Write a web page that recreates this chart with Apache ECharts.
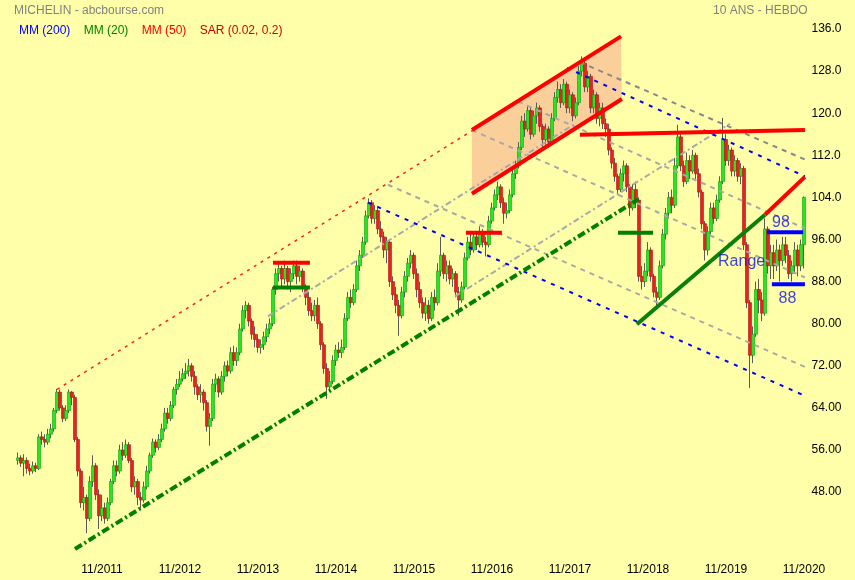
<!DOCTYPE html>
<html>
<head>
<meta charset="utf-8">
<script src="https://cdn.jsdelivr.net/npm/echarts@6/dist/echarts.min.js"></script>
<style>
html,body{margin:0;padding:0;background:#FFFFAA;}
#c{width:855px;height:580px;}
</style>
</head>
<body>
<div id="c"></div>
<script>
// ---- Data (bi-weekly candles, MICHELIN, Oct 2010 -> Nov 2020) ----
const startDate = [2010, 10, 17];
const stepDays = 14;

const opens = [
54.0,54.5,53.5,54.0,52.5,52.0,53.0,52.5,58.5,58.0,57.5,59.0,60.0,63.5,67.0,64.0,62.0,63.5,67.0,66.0,
58.0,52.0,46.0,47.0,43.0,50.0,53.0,47.5,43.5,45.0,43.0,46.0,50.0,53.0,52.0,56.0,55.0,57.0,54.0,49.0,
50.0,47.0,46.5,49.0,52.0,55.0,57.5,56.5,58.0,60.0,63.0,62.0,64.5,67.5,68.5,69.5,70.5,71.0,72.0,70.0,
68.0,66.5,67.0,65.0,60.5,62.0,68.5,69.5,67.0,70.0,72.0,71.0,74.5,73.0,74.5,79.0,82.5,83.5,80.5,78.0,
77.0,75.5,76.0,77.5,79.0,80.0,86.5,89.5,90.5,88.5,90.5,88.0,89.5,91.0,89.0,90.0,87.0,85.0,82.5,81.5,
83.5,80.0,76.0,71.5,68.0,69.0,73.0,75.0,74.5,75.5,81.0,85.0,84.0,86.5,91.0,93.0,95.5,100.5,103.0,100.0,
101.5,98.0,96.5,94.0,95.5,88.0,85.5,83.5,81.5,86.0,89.0,91.5,93.0,89.5,86.5,84.0,82.0,83.5,81.0,85.0,
84.0,90.0,93.0,89.5,91.0,88.5,89.5,86.0,84.5,87.0,92.5,95.5,94.0,96.5,95.0,97.0,95.5,95.0,99.5,102.0,
104.5,106.0,103.0,101.0,101.5,104.5,108.5,110.0,113.5,118.5,117.0,120.5,116.0,119.5,121.0,117.5,115.0,117.0,114.5,119.0,
123.0,124.5,122.0,125.5,121.0,123.5,119.5,122.0,128.0,129.5,125.0,127.0,121.0,123.5,119.0,121.0,118.0,117.0,113.0,110.5,
108.0,105.5,108.5,110.0,106.0,102.0,105.5,103.5,89.0,88.0,90.0,94.0,89.0,86.0,85.0,91.0,97.0,101.0,104.0,102.5,
110.0,115.5,110.0,107.0,111.0,109.0,112.0,108.5,105.0,99.0,94.0,97.5,102.0,100.0,103.5,107.0,115.0,111.0,113.0,109.0,
111.0,108.0,109.5,95.0,84.0,74.0,78.0,86.5,84.5,82.0,98.0,91.0,93.5,91.0,94.0,92.0,95.0,93.0,89.5,91.0,
94.0,91.0,95.0
];
const closes = [
54.5,53.5,54.0,52.5,52.0,53.0,52.5,58.5,58.0,57.5,59.0,60.0,63.5,67.0,64.0,62.0,63.5,67.0,66.0,58.0,
52.0,46.0,47.0,43.0,50.0,53.0,47.5,43.5,45.0,43.0,46.0,50.0,53.0,52.0,56.0,55.0,57.0,54.0,49.0,50.0,
47.0,46.5,49.0,52.0,55.0,57.5,56.5,58.0,60.0,63.0,62.0,64.5,67.5,68.5,69.5,70.5,71.0,72.0,70.0,68.0,
66.5,67.0,65.0,60.5,62.0,68.5,69.5,67.0,70.0,72.0,71.0,74.5,73.0,74.5,79.0,82.5,83.5,80.5,78.0,77.0,
75.5,76.0,77.5,79.0,80.0,86.5,89.5,90.5,88.5,90.5,88.0,89.5,91.0,89.0,90.0,87.0,85.0,82.5,81.5,83.5,
80.0,76.0,71.5,68.0,69.0,73.0,75.0,74.5,75.5,81.0,85.0,84.0,86.5,91.0,93.0,95.5,100.5,103.0,100.0,101.5,
98.0,96.5,94.0,95.5,88.0,85.5,83.5,81.5,86.0,89.0,91.5,93.0,89.5,86.5,84.0,82.0,83.5,81.0,85.0,84.0,
90.0,93.0,89.5,91.0,88.5,89.5,86.0,84.5,87.0,92.5,95.5,94.0,96.5,95.0,97.0,95.5,95.0,99.5,102.0,104.5,
106.0,103.0,101.0,101.5,104.5,108.5,110.0,113.5,118.5,117.0,120.5,116.0,119.5,121.0,117.5,115.0,117.0,114.5,119.0,123.0,
124.5,122.0,125.5,121.0,123.5,119.5,122.0,128.0,129.5,125.0,127.0,121.0,123.5,119.0,121.0,118.0,117.0,113.0,110.5,108.0,
105.5,108.5,110.0,106.0,102.0,105.5,103.5,89.0,88.0,90.0,94.0,89.0,86.0,85.0,91.0,97.0,101.0,104.0,102.5,110.0,
115.5,110.0,107.0,111.0,109.0,112.0,108.5,105.0,99.0,94.0,97.5,102.0,100.0,103.5,107.0,115.0,111.0,113.0,109.0,111.0,
108.0,109.5,95.0,84.0,74.0,78.0,86.5,84.5,82.0,98.0,91.0,93.5,91.0,94.0,92.0,95.0,93.0,89.5,91.0,94.0,
91.0,95.0,104.0
];
const lows = [
53.2,52.8,51.0,51.5,51.2,51.5,51.8,52.2,57.0,56.5,57.0,58.2,59.5,63.0,63.5,61.3,61.5,63.0,64.5,57.5,
51.0,45.0,44.5,40.2,42.5,49.0,46.5,41.0,42.5,42.0,42.5,45.5,49.5,51.0,51.5,54.0,54.5,53.5,48.0,47.5,
45.5,44.9,46.0,48.5,51.5,54.5,55.5,56.0,57.5,59.5,61.0,61.5,64.0,66.5,68.0,69.0,69.5,70.0,69.0,66.5,
65.5,65.0,63.5,59.5,56.8,61.5,67.0,66.0,66.5,69.0,70.0,70.5,72.0,72.0,74.0,78.5,81.0,79.5,77.0,75.5,
74.5,74.3,75.0,76.5,78.0,79.5,85.5,88.0,87.0,87.5,86.5,86.0,88.5,87.5,88.0,86.0,83.5,81.5,80.5,80.5,
79.0,75.0,70.5,65.7,67.0,68.5,72.0,73.5,73.5,75.0,80.5,83.0,83.5,86.0,90.0,92.5,95.0,100.0,99.0,99.0,
97.0,95.5,92.5,91.5,87.0,84.5,82.0,77.7,81.0,85.0,88.0,90.5,88.5,85.0,83.0,81.0,80.5,80.0,80.5,82.5,
83.5,89.0,88.5,88.0,87.5,87.0,85.0,81.5,84.0,86.5,92.0,93.0,93.5,94.0,94.5,94.5,92.8,94.5,99.0,101.5,
103.5,102.0,99.0,100.0,101.0,104.0,107.5,109.5,113.0,115.5,116.5,115.0,115.5,118.0,116.5,113.5,114.0,113.5,114.0,118.5,
122.0,121.0,121.5,120.0,120.0,118.5,119.0,121.5,127.0,124.0,124.0,120.0,120.0,118.0,117.5,117.0,115.5,112.0,109.5,107.0,
104.5,105.0,107.0,105.0,100.5,101.5,102.0,88.0,86.5,87.0,89.0,88.0,85.0,83.4,84.5,90.5,96.0,100.0,101.0,102.0,
109.5,109.0,106.0,106.5,107.5,108.5,107.5,104.0,98.0,92.0,93.0,97.0,99.0,99.5,103.0,106.5,110.0,110.0,108.0,108.0,
107.0,106.5,94.0,83.0,67.8,72.5,77.5,82.0,80.5,81.5,89.5,88.5,88.5,90.0,88.0,91.0,91.5,88.5,88.0,89.5,
89.0,90.0,90.5
];
const highs = [
55.5,55.0,55.2,54.6,53.4,53.8,53.6,59.0,59.5,59.0,60.0,61.0,64.0,67.6,67.5,64.5,64.5,67.5,67.2,66.5,
58.5,52.5,49.0,47.5,51.0,55.0,53.5,48.5,47.5,46.0,47.0,50.5,54.0,54.0,57.0,57.5,58.0,57.5,54.5,51.0,
50.5,48.0,50.0,53.0,55.5,58.2,58.0,59.0,61.0,64.0,64.0,65.3,68.0,69.5,71.0,71.5,72.5,73.3,72.5,71.0,
68.5,68.5,67.5,65.5,63.0,69.5,70.5,70.0,71.0,72.8,73.0,75.5,75.8,75.5,80.0,83.5,84.3,84.0,81.0,79.5,
78.0,77.0,78.5,80.0,81.0,87.0,90.5,91.5,91.0,92.0,91.0,90.5,92.0,92.0,91.0,90.5,87.5,86.0,84.0,84.5,
85.0,80.5,76.5,72.5,71.0,74.0,76.0,76.5,77.0,82.0,86.0,86.5,87.5,92.0,94.0,96.5,101.5,103.8,103.5,102.5,
102.0,99.5,97.5,96.5,96.0,89.0,87.0,84.5,87.0,90.0,92.5,94.0,93.5,90.5,88.0,85.0,85.0,84.5,86.0,86.5,
91.5,96.5,93.5,92.0,92.0,90.5,90.0,87.0,88.0,93.5,96.5,97.0,97.5,97.5,98.5,98.0,96.5,100.5,103.0,105.5,
107.0,106.5,104.0,103.0,105.5,109.5,111.0,114.5,119.5,120.0,121.5,121.0,120.5,122.0,121.5,118.0,118.0,117.5,120.0,124.0,
126.0,125.5,126.5,126.0,124.5,124.0,123.0,129.0,130.8,130.0,128.0,127.5,124.5,124.0,122.0,122.0,119.0,118.0,113.5,111.5,
108.5,109.5,111.0,110.5,106.5,106.5,107.0,104.0,91.0,91.5,95.5,94.5,89.5,87.0,92.0,98.0,102.0,105.0,105.5,111.5,
117.8,116.0,111.0,112.5,112.0,113.0,112.5,109.5,105.5,99.5,98.5,103.0,103.0,104.5,108.0,119.1,116.0,114.0,113.5,112.0,
111.5,110.5,110.0,95.5,84.5,79.5,88.0,88.5,86.0,100.0,98.5,95.0,95.0,96.0,95.0,96.5,96.5,94.0,92.0,95.5,
95.0,96.0,104.2
];

// price tags on the right axis: [value, colour]
const priceTags = [[130.8, '#007000'], [104.0, '#3C78F0'], [40.2, '#B00000']];

// trend lines: [ [candleIndex, price], [candleIndex, price] ]
const redDashed      = [[13, 67.5], [151.7, 116.8]];
const channelTop     = [[151.3, 116.8], [201, 134.6]];
const channelBottom  = [[151.3, 104.7], [201.3, 122.7]];
const blueDashLow    = [[116.7, 103.0], [262.3, 66.3]];
const blueDashHigh   = [[183, 128.6], [262.3, 108.0]];
const grayDash1      = [[123.3, 106.4], [262.3, 71.8]];
const grayDash2      = [[151.3, 116.8], [262.3, 88.8]];
const grayDash3      = [[187.3, 129.7], [262.3, 111.2]];
const grayDash4      = [[166.7, 122.2], [262.3, 98.1]];
const grayDashDot1   = [[83.3, 81.4], [185.7, 118.0]];
const grayDashDot2   = [[145.7, 85.2], [237.3, 118.0]];
const greenDashDot   = [[19, 37.2], [206.7, 103.6]];
const greenSupport   = [[206.3, 79.9], [249, 100.7]];
const redResistance  = [[249, 100.7], [262.3, 107.9]];
const redFlat        = [[187.3, 115.9], [262.3, 116.8]];
const redMark2013    = [[85, 91.6], [97.3, 91.6]];
const greenMark2013  = [[85, 86.9], [97.3, 86.9]];
const redMark2016    = [[149.3, 97.3], [161.3, 97.3]];
const greenMark2018  = [[200, 97.3], [211.7, 97.3]];
const rangeHigh      = [[249.7, 97.4], [261.7, 97.4]];
const rangeLow       = [[251.3, 87.5], [262.3, 87.5]];
// text annotations: [text, candleIndex, price]
const notes = [['98', 254.3, 99.2], ['88', 256.5, 84.8], ['Range', 241.2, 91.8]];

// ---- build ----
const dates = [];
const t0 = Date.UTC(startDate[0], startDate[1] - 1, startDate[2]);
for (let i = 0; i < closes.length; i++) {
  const d = new Date(t0 + i * stepDays * 86400000);
  dates.push(d.getUTCFullYear() + '-' + String(d.getUTCMonth() + 1).padStart(2, '0') + '-' + String(d.getUTCDate()).padStart(2, '0'));
}
const wickData = closes.map((c, i) => [opens[i], c, lows[i], highs[i]]);
const bodyData = closes.map((c, i) => [opens[i], c, Math.min(opens[i], c), Math.max(opens[i], c)]);

const FONT = 'Liberation Sans, Arial, sans-serif';

function seg(name, pts, color, width, type, z) {
  return {
    name: name, type: 'line', xAxisIndex: 1, yAxisIndex: 0, data: pts,
    symbol: 'none', clip: false, silent: true, animation: false, z: z || 5,
    lineStyle: { color: color, width: width, type: type, cap: 'butt' }
  };
}

const chart = echarts.init(document.getElementById('c'), null, { renderer: 'canvas' });
const option = {
  backgroundColor: '#FFFFAA',
  animation: false,
  title: [
    { text: 'MICHELIN - abcbourse.com', left: 9, top: 0,
      textStyle: { fontFamily: FONT, fontSize: 12, fontWeight: 'normal', color: '#808080' } },
    { text: '10 ANS - HEBDO', left: 708, top: 0,
      textStyle: { fontFamily: FONT, fontSize: 12, fontWeight: 'normal', color: '#808080' } },
    { text: '{b|MM (200)}    {g|MM (20)}    {r|MM (50)}    {s|SAR (0.02, 0.2)}', left: 14, top: 20,
      textStyle: { fontFamily: FONT, fontSize: 12, fontWeight: 'normal',
        rich: {
          b: { color: '#0000FF', fontFamily: FONT, fontSize: 12 },
          g: { color: '#008000', fontFamily: FONT, fontSize: 12 },
          r: { color: '#FF0000', fontFamily: FONT, fontSize: 12 },
          s: { color: '#CC0000', fontFamily: FONT, fontSize: 12 }
        } } }
  ],
  grid: { left: 16.5, right: 49.5, top: 29, bottom: 45.8, containLabel: false },
  xAxis: [
    { type: 'category', data: dates, boundaryGap: true,
      axisLine: { show: false }, axisTick: { show: false }, splitLine: { show: false },
      axisLabel: {
        margin: 29, color: '#000', fontFamily: FONT, fontSize: 12,
        interval: function (idx, val) { const p = val.split('-'); return p[1] === '11' && +p[2] <= 13; },
        formatter: function (val) { const p = val.split('-'); return p[1] + '/' + p[0]; }
      } },
    { type: 'value', min: -0.5, max: closes.length - 0.5, show: false }
  ],
  yAxis: [{
    type: 'value', position: 'right', min: 40, max: 136, interval: 8,
    axisLine: { show: false }, axisTick: { show: false }, splitLine: { show: false },
    axisLabel: { showMinLabel: false, margin: 6, color: '#000', fontFamily: FONT, fontSize: 12,
      formatter: function (v) { return v >= 100 ? v.toFixed(1) : v.toFixed(2); } }
  }],
  series: [
    {
      type: 'custom', xAxisIndex: 1, yAxisIndex: 0, data: [0], z: 1, silent: true,
      renderItem: function (params, api) {
        const pts = [channelTop[0], channelTop[1], channelBottom[1], channelBottom[0]].map(p => api.coord(p));
        return { type: 'polygon', shape: { points: pts }, style: { fill: '#FBCF9A' } };
      }
    },
    {
      name: 'wick', type: 'candlestick', data: wickData, z: 2, barWidth: 1, silent: true,
      itemStyle: { color: '#5A5A5A', color0: '#5A5A5A', borderColor: '#5A5A5A', borderColor0: '#5A5A5A', borderWidth: 1 }
    },
    {
      name: 'body', type: 'candlestick', data: bodyData, z: 3, barWidth: 3, silent: true,
      itemStyle: { color: '#22E822', color0: '#E82020', borderColor: '#119911', borderColor0: '#B01010', borderWidth: 0.6 },
      markLine: {
        silent: true, symbol: 'none', animation: false,
        lineStyle: { opacity: 0 },
        data: priceTags.map(t => ({
          yAxis: t[0],
          label: { show: true, position: 'end', distance: 3, offset: [0, 3.5],
            formatter: t[0] >= 100 ? t[0].toFixed(1) : t[0].toFixed(2),
            color: '#FFFFFF', backgroundColor: t[1], padding: [2, 5, 2, 5],
            fontFamily: FONT, fontSize: 13, width: 34, align: 'left' }
        }))
      }
    },
    seg('redDashed', redDashed, '#FF2020', 1.5, [3, 5]),
    seg('grayDash1', grayDash1, '#A8A8A8', 2, [5, 5]),
    seg('grayDash2', grayDash2, '#A8A8A8', 2, [5, 5]),
    seg('grayDash4', grayDash4, '#A8A8A8', 2, [5, 5]),
    seg('grayDash3', grayDash3, '#888888', 2, [5, 5]),
    seg('grayDashDot1', grayDashDot1, '#A8A8A8', 2, [6, 3, 2, 3]),
    seg('grayDashDot2', grayDashDot2, '#A8A8A8', 2, [6, 3, 2, 3]),
    seg('blueDashLow', blueDashLow, '#0000FF', 2, [4, 6]),
    seg('blueDashHigh', blueDashHigh, '#0000FF', 2, [4, 6]),
    seg('greenDashDot', greenDashDot, '#008000', 4, [8, 3, 2, 3]),
    seg('channelTop', channelTop, '#FF0000', 4, 'solid', 6),
    seg('channelBottom', channelBottom, '#FF0000', 4, 'solid', 6),
    seg('redFlat', redFlat, '#FF0000', 4, 'solid', 6),
    seg('greenSupport', greenSupport, '#0A800A', 4, 'solid', 6),
    seg('redResistance', redResistance, '#FF0000', 4, 'solid', 6),
    seg('redMark2013', redMark2013, '#FF0000', 4, 'solid', 6),
    seg('greenMark2013', greenMark2013, '#008000', 4, 'solid', 6),
    seg('redMark2016', redMark2016, '#FF0000', 4, 'solid', 6),
    seg('greenMark2018', greenMark2018, '#008000', 4, 'solid', 6),
    seg('rangeHigh', rangeHigh, '#0000FF', 4, 'solid', 6),
    seg('rangeLow', rangeLow, '#0000FF', 4, 'solid', 6),
    {
      type: 'scatter', xAxisIndex: 1, yAxisIndex: 0, symbolSize: 0, silent: true, z: 7,
      data: notes.map(n => ({ value: [n[1], n[2]], name: n[0] })),
      label: { show: true, position: 'inside', formatter: p => p.name,
        color: '#1010E0', fontFamily: FONT, fontSize: 16 }
    }
  ]
};
chart.setOption(option);
</script>
</body>
</html>
